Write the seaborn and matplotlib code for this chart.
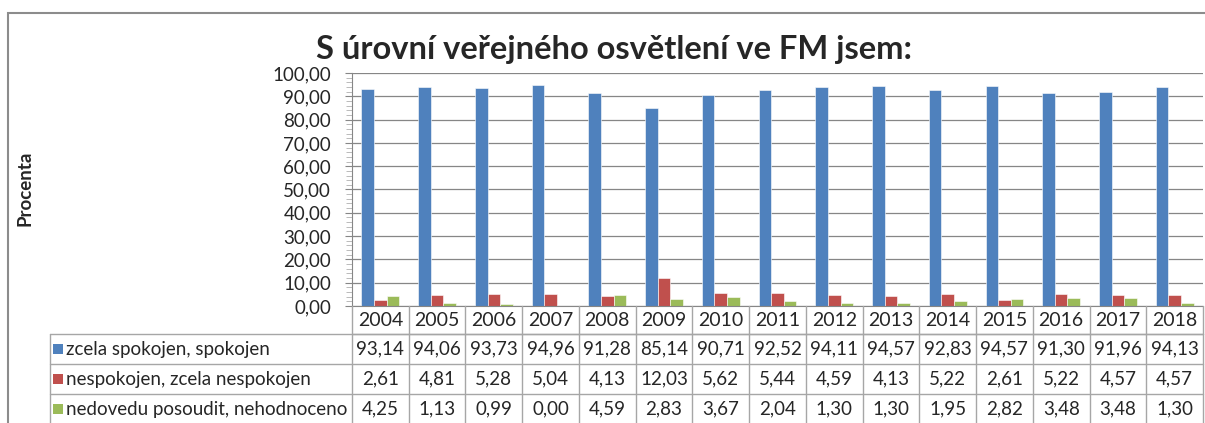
import pandas as pd
import matplotlib.pyplot as plt
import matplotlib.transforms as mtransforms
from matplotlib.lines import Line2D
from matplotlib.patches import Rectangle
from matplotlib.ticker import MultipleLocator, FuncFormatter
import seaborn as sns

sns.set_style('white')
plt.rcParams['font.family'] = ['Lato', 'DejaVu Sans']

# data
roky = ['2004', '2005', '2006', '2007', '2008', '2009', '2010', '2011',
        '2012', '2013', '2014', '2015', '2016', '2017', '2018']
kategorie = ['zcela spokojen, spokojen',
             'nespokojen, zcela nespokojen',
             'nedovedu posoudit, nehodnoceno']
spokojen = [93.14, 94.06, 93.73, 94.96, 91.28, 85.14, 90.71, 92.52,
            94.11, 94.57, 92.83, 94.57, 91.30, 91.96, 94.13]
nespokojen = [2.61, 4.81, 5.28, 5.04, 4.13, 12.03, 5.62, 5.44,
              4.59, 4.13, 5.22, 2.61, 5.22, 4.57, 4.57]
nedovedu = [4.25, 1.13, 0.99, 0.00, 4.59, 2.83, 3.67, 2.04,
            1.30, 1.30, 1.95, 2.82, 3.48, 3.48, 1.30]
barvy = ['#4F81BD', '#C0504D', '#9BBB59']

hodnoty = [spokojen, nespokojen, nedovedu]
df = pd.DataFrame({
    'rok': roky * 3,
    'kategorie': [k for k in kategorie for _ in roky],
    'hodnota': spokojen + nespokojen + nedovedu,
})

W, H = 1205, 423
fig = plt.figure(figsize=(W / 100, H / 100), dpi=100)

def fx(px):
    return px / W

def fy(py):
    return 1 - py / H

left, right, top, bottom = 352, 1203, 73, 306
ax = fig.add_axes([fx(left), fy(bottom), fx(right - left), (bottom - top) / H])

sns.barplot(data=df, x='rok', y='hodnota', hue='kategorie', order=roky,
            hue_order=kategorie, palette=barvy, saturation=1, width=0.667,
            edgecolor='#ffffff', linewidth=0.4, legend=False, ax=ax)

ax.set_xlim(-0.5, len(roky) - 0.5)
ax.set_ylim(0, 100)
ax.yaxis.set_major_locator(MultipleLocator(10))
ax.yaxis.set_minor_locator(MultipleLocator(2))
ax.yaxis.set_major_formatter(FuncFormatter(lambda v, p: f'{v:.2f}'.replace('.', ',')))
ax.tick_params(axis='y', which='major', direction='out', length=5, width=0.8,
               color='#868686', labelsize=13.5, pad=10, left=True)
ax.tick_params(axis='y', which='minor', direction='out', length=4, width=0.6,
               color='#b0b0b0', left=True)
ax.tick_params(axis='x', bottom=False, labelbottom=False)
ax.set_xlabel('')
ax.set_ylabel('')
ax.yaxis.grid(True, which='major', color='#868686', lw=0.9)
ax.set_axisbelow(True)
for s in ['top', 'right']:
    ax.spines[s].set_visible(False)
ax.spines['left'].set_color('#868686')
ax.spines['bottom'].set_color('#868686')

# title and y label
fig.text(fx(614), fy(50), 'S úrovní veřejného osvětlení ve FM jsem:',
         ha='center', va='center', fontsize=23.5, fontweight='bold')
fig.text(fx(25), fy(188), 'Procenta', rotation=90, ha='center', va='center',
         fontsize=13.5, fontweight='bold')

# data table under the chart
tr = mtransforms.blended_transform_factory(ax.transData, fig.transFigure)
cara = '#a6a6a6'
radky = [306, 334, 364, 394, 424]
for i, rok in enumerate(roky):
    fig.add_artist(Line2D([i + 0.5, i + 0.5], [fy(306), fy(430)], color=cara,
                          lw=1, transform=tr))
    ax.text(i, fy(320), rok, transform=tr, ha='center', va='center',
            fontsize=14, clip_on=False)
    for r, serie in enumerate(hodnoty):
        ax.text(i, fy((radky[r + 1] + radky[r + 2]) / 2),
                f'{serie[i]:.2f}'.replace('.', ','), transform=tr,
                ha='center', va='center', fontsize=13.5, clip_on=False)
fig.add_artist(Line2D([fx(left), fx(left)], [fy(306), fy(430)], color=cara, lw=1))
fig.add_artist(Line2D([fx(50), fx(50)], [fy(334), fy(430)], color=cara, lw=1))
fig.add_artist(Line2D([fx(left), fx(right)], [fy(334), fy(334)], color=cara, lw=1))
for py in radky[1:4]:
    fig.add_artist(Line2D([fx(50), fx(right)], [fy(py), fy(py)], color=cara, lw=1))
for r, k in enumerate(kategorie):
    yc = (radky[r + 1] + radky[r + 2]) / 2
    fig.add_artist(Rectangle((fx(53), fy(yc + 5)), fx(10), 10 / H,
                             facecolor=barvy[r], edgecolor='none'))
    fig.text(fx(66), fy(yc), k, ha='left', va='center', fontsize=13.5)

# outer chart border
fig.add_artist(Rectangle((fx(8), -0.1), 1.1, fy(13) + 0.1, fill=False,
                         edgecolor='#8c8c8c', lw=1.5))

plt.savefig('out.png', dpi=100)
